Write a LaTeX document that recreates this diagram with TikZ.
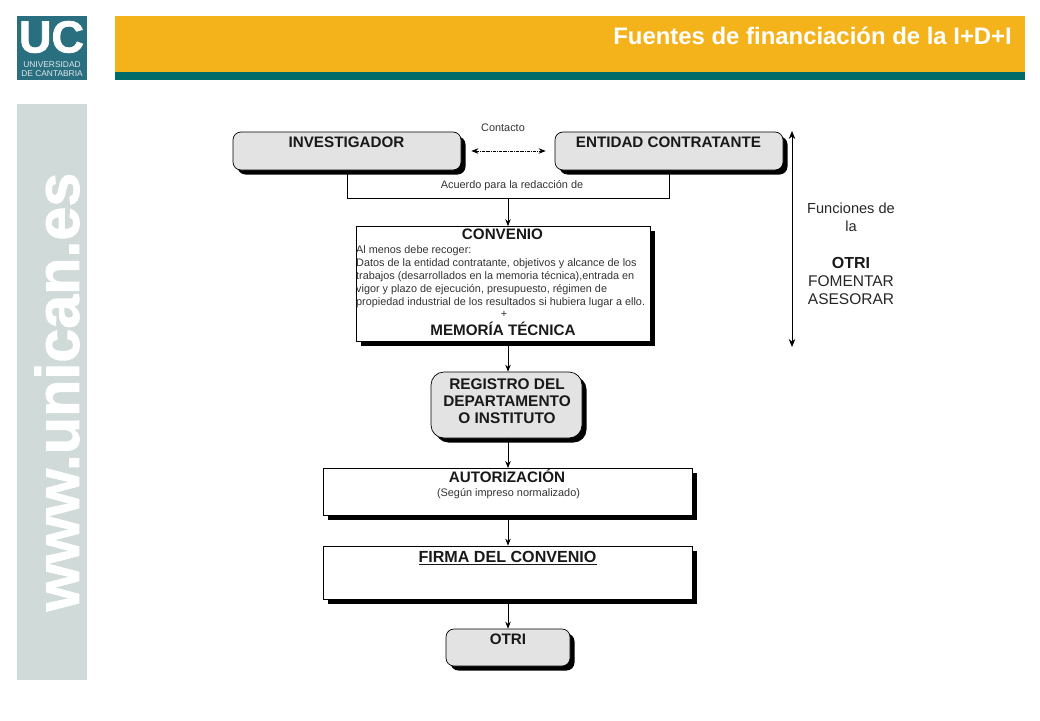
\documentclass[tikz,border=0pt]{standalone}
\usepackage{fontspec}
\setmainfont{Liberation Sans}
\newfontfamily\heavyfont[FakeBold=1.6]{Liberation Sans Bold}
\usetikzlibrary{shadows,arrows.meta}
\definecolor{gold}{HTML}{F5B31B}
\definecolor{teal}{HTML}{006B68}
\definecolor{logoblue}{HTML}{2A6F7F}
\definecolor{band}{HTML}{D0DAD8}
\definecolor{boxgray}{HTML}{E3E3E3}
\newcommand{\fsz}[1]{\fontsize{#1}{#1}\selectfont}
\tikzset{
  shad/.style={drop shadow={shadow xshift=4.5pt,shadow yshift=-4.5pt,fill=black,opacity=1}},
  roundbox/.style={draw=black,line width=0.7pt,fill=boxgray,rounded corners=8pt,inner sep=0,shad},
  squarebox/.style={draw=black,line width=0.7pt,fill=white,inner sep=0,shad},
  boxtitle/.style={inner sep=0,font=\bfseries\fsz{15.2},text=black!90},
  small/.style={inner sep=0,font=\fsz{10.9},text=black!80},
  conn/.style={draw=black,line width=0.7pt},
  arr/.style={conn,-{Stealth[length=7pt,width=5.5pt]}}
}
\begin{document}
\begin{tikzpicture}[x=1pt,y=-1pt]
\useasboundingbox (0,0) rectangle (1040,720);
% header
\node[fill=gold,minimum width=910pt,minimum height=56pt,inner sep=0,anchor=north west] (head) at (115,16) {};
\node[fill=teal,minimum width=910pt,minimum height=8pt,inner sep=0,anchor=north west] (headline) at (115,72) {};
\node[anchor=east,inner sep=0,text=white,font=\bfseries\fsz{23.9}] (title) at (1012,36) {Fuentes de financiación de la I+D+I};
% logo
\node[fill=logoblue,minimum width=70pt,minimum height=64pt,inner sep=0,anchor=north west] (logo) at (17,16) {};
\node[inner sep=0,text=white,font=\heavyfont\fsz{45}] (uc) at (51.5,37) {UC};
\node[inner sep=0,text=white!85!logoblue,font=\fsz{8.4},align=center,anchor=north] (univ) at (52,61.5) {UNIVERSIDAD\\[0.3pt]DE CANTABRIA};
% side band
\node[fill=band,minimum width=70pt,minimum height=576pt,inner sep=0,anchor=north west] (side) at (17,104) {};
\node[rotate=90,inner sep=0,text=white,font=\heavyfont\fsz{61}] (www) at (57,392) {www.unican.es};
% boxes
\node[roundbox,minimum width=228pt,minimum height=38pt] (inv) at (347,151) {};
\node[boxtitle] (invt) at (346.5,142) {INVESTIGADOR};
\node[roundbox,minimum width=228pt,minimum height=38pt] (ent) at (669,151) {};
\node[boxtitle] (entt) at (668.5,142) {ENTIDAD CONTRATANTE};
\node[small] (contacto) at (503,128) {Contacto};
\coordinate (join) at (508,198);
\draw[conn] (inv.south) -- (inv.south |- join) -- (ent.south |- join) -- (ent.south);
\node[small] (acuerdo) at (512,185.5) {Acuerdo para la redacción de};
\draw[conn,densely dashdotted,{Stealth[length=7pt,width=5.5pt]}-{Stealth[length=7pt,width=5.5pt]},shorten <=10pt,shorten >=9pt] (inv.east) -- (ent.west);
\node[squarebox,minimum width=294pt,minimum height=115pt] (conv) at (503.5,284) {};
\node[boxtitle] (convt) at (502.5,234.5) {CONVENIO};
\node[inner sep=0,anchor=north west,font=\fsz{10.85},text=black!80,align=left] (convb) at (356,245.8) {Al menos debe recoger:\\[2.1pt]Datos de la entidad contratante, objetivos y alcance de los\\[2.1pt]trabajos (desarrollados en la memoria técnica),entrada en\\[2.1pt]vigor y plazo de ejecución, presupuesto, régimen de\\[2.1pt]propiedad industrial de los resultados si hubiera lugar a ello.};
\node[small] (plus) at (504,314) {+};
\node[boxtitle] (memo) at (503,328.5) {MEMORÍA TÉCNICA};
\node[roundbox,rounded corners=13pt,minimum width=151pt,minimum height=66pt] (reg) at (506.5,405) {};
\node[boxtitle,align=center,font=\bfseries\fsz{15.4}] (regt) at (507,401) {REGISTRO DEL\\[1.6pt]DEPARTAMENTO\\[1.6pt]O INSTITUTO};
\node[squarebox,minimum width=369pt,minimum height=47pt] (aut) at (507.5,491.5) {};
\node[boxtitle] (autt) at (507,475.5) {AUTORIZACIÓN};
\node[small] (autn) at (508.5,493.5) {(Según impreso normalizado)};
\node[squarebox,minimum width=369pt,minimum height=53pt] (fir) at (507.5,572.5) {};
\node[boxtitle,font=\bfseries\fsz{16.1}] (firt) at (507.5,558) {\underline{FIRMA DEL CONVENIO}};
\node[roundbox,minimum width=124pt,minimum height=37pt] (otri) at (508,647.5) {};
\node[boxtitle] (otrit) at (508,639) {OTRI};
% flow
\draw[arr] (join) -- (join |- conv.north);
\coordinate (a1) at (508,341);
\coordinate (a2) at (508,468);
\draw[arr] (a1) -- (a1 |- reg.north);
\draw[arr] (a1 |- reg.south) -- (a2);
\draw[arr] (a1 |- aut.south) -- (a1 |- fir.north);
\draw[arr] (a1 |- fir.south) -- (a1 |- otri.north);
% side arrow
\coordinate (s1) at (792,131);
\coordinate (s2) at (792,347);
\draw[conn,{Stealth[length=8pt,width=6.5pt]}-{Stealth[length=8pt,width=6.5pt]}] (s1) -- (s2);
\node[inner sep=0,font=\fsz{14.6},text=black!85,align=center] (func) at (851,217) {Funciones de\\[3.4pt]la};
\node[inner sep=0,font=\bfseries\fsz{16},text=black!90] (fotri) at (851,263) {OTRI};
\node[inner sep=0,font=\fsz{15.5},text=black!85,align=center] (fom) at (851,290) {FOMENTAR\\[2.5pt]ASESORAR};
\end{tikzpicture}
\end{document}
